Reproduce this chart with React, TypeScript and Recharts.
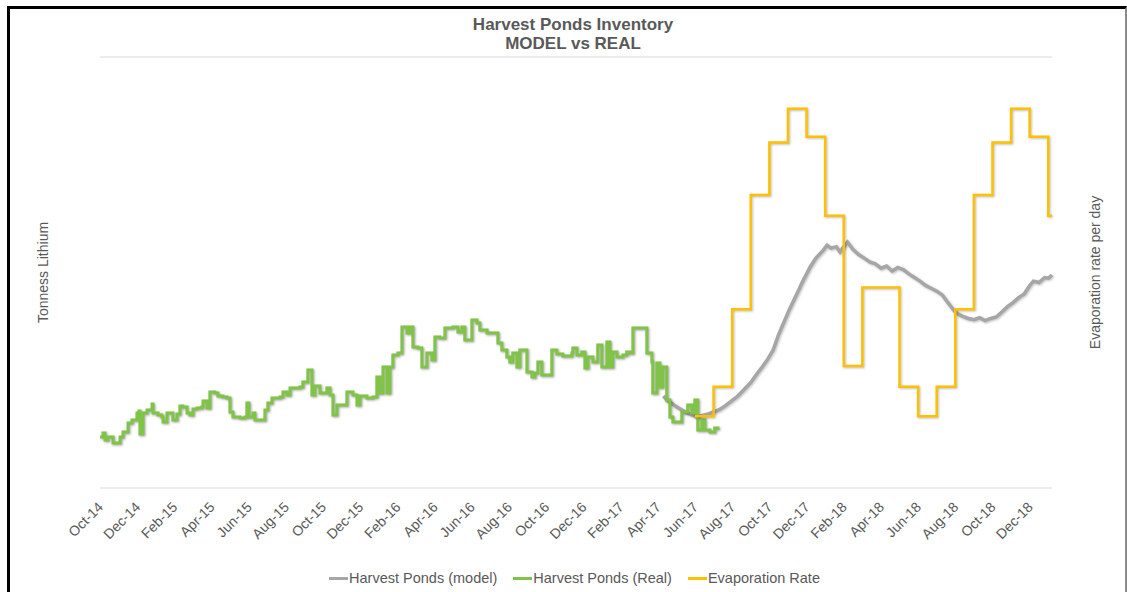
import { LineChart, Line, XAxis, YAxis, CartesianGrid, Legend } from 'recharts';

const FONT = '"Liberation Sans", Arial, Helvetica, sans-serif';
const TEXT_COLOR = '#595959';

// month offsets from Oct-14, tonnes lithium
const realPonds: [number, number][] = [
  [0, 355], [0.16, 383], [0.27, 334], [0.43, 355], [0.7, 313], [1.08, 355], [1.24, 390],
  [1.51, 452], [1.72, 473], [1.99, 522], [2.1, 536], [2.15, 376], [2.31, 522], [2.53, 543],
  [2.8, 585], [2.85, 522], [3.12, 508], [3.33, 494], [3.39, 459], [3.6, 522], [3.92, 473],
  [4.14, 515], [4.3, 571], [4.46, 564], [4.68, 522], [4.84, 508], [5.0, 550], [5.22, 557],
  [5.48, 564], [5.54, 606], [5.75, 557], [5.91, 668], [6.18, 661], [6.34, 640], [6.61, 633],
  [6.83, 626], [6.99, 529], [7.15, 494], [7.53, 487], [7.8, 494], [7.9, 592], [8.01, 494],
  [8.23, 522], [8.33, 473], [8.87, 543], [9.03, 592], [9.25, 626], [9.68, 633], [9.84, 668],
  [10.05, 647], [10.22, 696], [10.75, 703], [10.91, 738], [11.18, 821], [11.4, 647],
  [11.56, 710], [11.83, 661], [12.2, 696], [12.37, 647], [12.53, 508], [12.74, 578],
  [13.28, 668], [13.6, 647], [13.82, 578], [13.98, 640], [14.35, 626], [14.68, 633],
  [14.89, 773], [15.05, 661], [15.22, 842], [15.43, 661], [15.59, 842], [15.75, 926],
  [16.02, 940], [16.24, 1121], [16.51, 1079], [16.67, 1121], [16.83, 981], [17.1, 974],
  [17.31, 842], [17.58, 940], [17.85, 891], [18.01, 1051], [18.28, 1044], [18.55, 1114],
  [18.98, 1121], [19.25, 1086], [19.46, 1121], [19.62, 1030], [20.0, 1169], [20.27, 1148],
  [20.43, 1100], [20.81, 1079], [21.4, 1009], [21.61, 960], [21.88, 912], [22.04, 877],
  [22.2, 940], [22.42, 842], [22.58, 960], [22.96, 807], [23.23, 773], [23.39, 800],
  [23.55, 877], [23.76, 786], [24.3, 960], [24.57, 933], [24.89, 919], [25.38, 940],
  [25.43, 974], [25.65, 926], [25.91, 947], [26.08, 835], [26.24, 912], [26.51, 877],
  [26.77, 995], [26.99, 842], [27.26, 1016], [27.42, 842], [27.58, 947], [27.8, 912],
  [28.12, 926], [28.33, 947], [28.49, 940], [28.66, 1114], [29.19, 1114], [29.41, 940],
  [29.68, 877], [29.73, 661], [29.95, 870], [30.11, 703], [30.27, 842], [30.48, 612],
  [30.65, 494], [30.81, 459], [31.29, 529], [31.61, 578], [31.83, 522], [31.99, 612],
  [32.15, 404], [32.37, 473], [32.53, 404], [32.8, 390], [33.06, 418], [33.23, 404],
];

const modelPonds: [number, number][] = [
  [30.3, 640], [30.5, 612], [30.8, 585], [31.0, 565], [31.3, 543], [31.6, 520], [31.9, 505],
  [32.1, 494], [32.4, 505], [32.7, 515], [33.0, 529], [33.3, 545], [33.6, 570], [34.0, 610],
  [34.3, 640], [34.6, 680], [35.0, 735], [35.3, 790], [35.6, 840], [35.9, 895], [36.2, 960],
  [36.5, 1070], [36.8, 1160], [37.1, 1250], [37.5, 1357], [37.8, 1440], [38.2, 1540],
  [38.5, 1600], [38.9, 1656], [39.1, 1690], [39.3, 1670], [39.6, 1680], [39.8, 1643],
  [40.0, 1680], [40.2, 1712], [40.5, 1660], [40.8, 1625], [41.1, 1600], [41.4, 1573],
  [41.7, 1560], [42.0, 1530], [42.3, 1545], [42.6, 1510], [42.9, 1535], [43.2, 1520],
  [43.5, 1490], [43.8, 1465], [44.1, 1440], [44.4, 1410], [44.7, 1390], [45.0, 1370],
  [45.3, 1343], [45.6, 1290], [45.9, 1240], [46.1, 1215], [46.4, 1195], [46.7, 1180],
  [47.0, 1172], [47.3, 1185], [47.6, 1165], [47.9, 1180], [48.2, 1190], [48.5, 1225],
  [48.8, 1262], [49.1, 1290], [49.4, 1325], [49.7, 1350], [50.0, 1410], [50.2, 1440],
  [50.5, 1430], [50.8, 1465], [51.0, 1460], [51.2, 1482],
];

// evaporation rate per day, monthly steps
const evaporation: [number, number][] = [
  [32, 1.0], [33, 1.41], [34, 2.49], [35, 4.08], [36, 4.81], [37, 5.28], [38, 4.89],
  [39, 3.79], [40, 1.7], [41, 2.79], [43, 1.41], [44, 1.0], [45, 1.41], [46, 2.49],
  [47, 4.08], [48, 4.81], [49, 5.28], [50, 4.89], [51, 3.79], [51.2, 3.79],
];

const xTickLabels = [
  'Oct-14', 'Dec-14', 'Feb-15', 'Apr-15', 'Jun-15', 'Aug-15', 'Oct-15', 'Dec-15', 'Feb-16',
  'Apr-16', 'Jun-16', 'Aug-16', 'Oct-16', 'Dec-16', 'Feb-17', 'Apr-17', 'Jun-17', 'Aug-17',
  'Oct-17', 'Dec-17', 'Feb-18', 'Apr-18', 'Jun-18', 'Aug-18', 'Oct-18', 'Dec-18',
];

const seriesNames = ['Harvest Ponds (model)', 'Harvest Ponds (Real)', 'Evaporation Rate'];

const toRows = (pts: [number, number][]) => pts.map(([t, v]) => ({ t, v }));

const XTick = (props: any) => {
  const { x, y, payload } = props;
  const label = xTickLabels[Math.round(payload.value / 2)];
  const tx = x + 4;
  const ty = y + 12;
  return (
    <text
      x={tx}
      y={ty}
      transform={`rotate(-45, ${tx}, ${ty})`}
      textAnchor="end"
      fill={TEXT_COLOR}
      fontSize={14}
      fontFamily={FONT}
    >
      {label}
    </text>
  );
};

const renderLegend = (props: any) => {
  const items = [...(props.payload || [])].sort(
    (a: any, b: any) => seriesNames.indexOf(a.value) - seriesNames.indexOf(b.value)
  );
  return (
    <div
      style={{
        display: 'flex',
        justifyContent: 'center',
        alignItems: 'center',
        height: 20,
        fontFamily: FONT,
        fontSize: 14.5,
        color: TEXT_COLOR,
        paddingLeft: 14,
      }}
    >
      {items.map((item: any) => (
        <div key={item.value} style={{ display: 'flex', alignItems: 'center', margin: '0 8px' }}>
          <span style={{ width: 19, height: 3, background: item.color, marginRight: 1 }} />
          {item.value}
        </div>
      ))}
    </div>
  );
};

const axisTitle = (text: string, dxFromAxis: number) => (props: any) => {
  const vb = props.viewBox;
  const cx = vb.x + dxFromAxis;
  const cy = vb.y + vb.height / 2;
  return (
    <text
      x={cx}
      y={cy}
      transform={`rotate(-90, ${cx}, ${cy})`}
      textAnchor="middle"
      dominantBaseline="central"
      fill={TEXT_COLOR}
      fontSize={14}
      fontFamily={FONT}
    >
      {text}
    </text>
  );
};

export default function App() {
  return (
    <div style={{ position: 'absolute', left: 0, top: 0, width: 1127, height: 592, background: '#fff', overflow: 'hidden' }}>
      <style>{`
        .line-shadow { filter: drop-shadow(1px 1.5px 1px rgba(0,0,0,0.35)); }
        .line-shadow-soft { filter: drop-shadow(1px 1px 1px rgba(0,0,0,0.25)); }
      `}</style>
      <div
        style={{
          position: 'absolute',
          left: 7,
          top: 6,
          width: 1120,
          height: 620,
          boxSizing: 'border-box',
          borderLeft: '3px solid #000',
          borderTop: '3px solid #000',
          borderRight: '2px solid #8c8c8c',
        }}
      />
      <div
        style={{
          position: 'absolute',
          left: 373,
          top: 15,
          width: 400,
          textAlign: 'center',
          fontFamily: FONT,
          fontWeight: 'bold',
          fontSize: 17,
          lineHeight: '19px',
          color: TEXT_COLOR,
        }}
      >
        Harvest Ponds Inventory
        <br />
        MODEL vs REAL
      </div>
      <div style={{ position: 'absolute', left: 0, top: 0 }}>
        <LineChart width={1127} height={592} margin={{ top: 57, right: 0, bottom: 4, left: 8 }}>
          <CartesianGrid yAxisId="left" vertical={false} stroke="#d9d9d9" />
          <XAxis
            dataKey="t"
            type="number"
            domain={[0, 51.2]}
            ticks={xTickLabels.map((_, i) => i * 2)}
            interval={0}
            height={80}
            axisLine={false}
            tickLine={false}
            tick={<XTick />}
          />
          <YAxis
            yAxisId="left"
            domain={[0, 3000]}
            ticks={[0, 500, 1000, 1500, 2000, 2500, 3000]}
            width={92}
            axisLine={false}
            tickLine={false}
            tick={false}
            label={{ content: axisTitle('Tonness Lithium', 35) }}
          />
          <YAxis
            yAxisId="right"
            orientation="right"
            domain={[0, 6]}
            ticks={[0, 1, 2, 3, 4, 5, 6]}
            width={75}
            axisLine={false}
            tickLine={false}
            tick={false}
            label={{ content: axisTitle('Evaporation rate per day', 43) }}
          />
          <Legend verticalAlign="bottom" height={20} content={renderLegend} />
          <Line
            yAxisId="left"
            name={seriesNames[0]}
            data={toRows(modelPonds)}
            dataKey="v"
            type="linear"
            stroke="#a6a6a6"
            strokeWidth={3.5}
            dot={false}
            activeDot={false}
            className="line-shadow-soft"
            isAnimationActive={false}
          />
          <Line
            yAxisId="left"
            name={seriesNames[1]}
            data={toRows(realPonds)}
            dataKey="v"
            type="stepAfter"
            stroke="#80c447"
            strokeWidth={3}
            dot={false}
            activeDot={false}
            className="line-shadow"
            isAnimationActive={false}
          />
          <Line
            yAxisId="right"
            name={seriesNames[2]}
            data={toRows(evaporation)}
            dataKey="v"
            type="stepAfter"
            stroke="#ffc000"
            strokeWidth={2.5}
            dot={false}
            activeDot={false}
            className="line-shadow-soft"
            isAnimationActive={false}
          />
        </LineChart>
      </div>
    </div>
  );
}
